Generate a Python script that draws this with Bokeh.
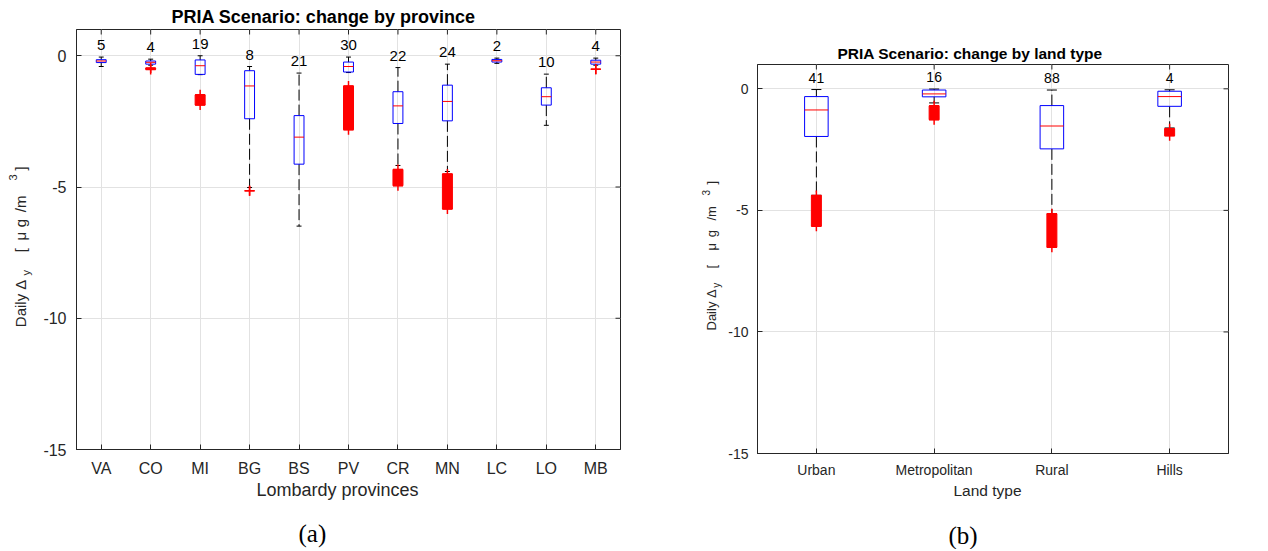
import numpy as np
from bokeh.plotting import figure
from bokeh.models import Range1d, FixedTicker, Title
from bokeh.layouts import row, column
from bokeh.embed import file_html
from bokeh.resources import INLINE
from bokeh.core.properties import value

# ---------------- data: (a) provinces ----------------
prov_names = ["VA", "CO", "MI", "BG", "BS", "PV", "CR", "MN", "LC", "LO", "MB"]
prov_counts = [5, 4, 19, 8, 21, 30, 22, 24, 2, 10, 4]
prov_upper = [-0.05, -0.13, 0.00, -0.41, -0.66, -0.05, -0.45, -0.32, -0.09, -0.70, -0.09]
prov_q3 = [-0.15, -0.20, -0.16, -0.57, -2.28, -0.24, -1.37, -1.12, -0.14, -1.22, -0.17]
prov_median = [-0.20, -0.25, -0.38, -1.15, -3.10, -0.41, -1.91, -1.74, -0.19, -1.56, -0.24]
prov_q1 = [-0.26, -0.32, -0.71, -2.40, -4.13, -0.62, -2.58, -2.48, -0.24, -1.88, -0.32]
prov_lower = [-0.41, -0.36, -0.72, -5.02, -6.49, -0.64, -4.18, -4.41, -0.29, -2.65, -0.36]
prov_out_top = [None, -0.47, -1.49, -5.14, None, -1.15, -4.33, -4.50, None, None, -0.51]
prov_out_bottom = [None, -0.52, -1.88, -5.14, None, -2.82, -4.95, -5.84, None, None, -0.51]

# ---------------- data: (b) land types ----------------
land_names = ["Urban", "Metropolitan", "Rural", "Hills"]
land_counts = [41, 16, 88, 4]
land_upper = [-0.03, -0.01, -0.05, -0.04]
land_q3 = [-0.32, -0.05, -0.69, -0.10]
land_median = [-0.87, -0.21, -1.53, -0.32]
land_q1 = [-1.96, -0.33, -2.47, -0.72]
land_lower = [-4.38, -0.58, -5.14, -1.61]
land_out_top = [-4.39, -0.70, -5.14, -1.64]
land_out_bottom = [-5.65, -1.27, -6.52, -1.93]

y_ticks = [-15, -10, -5, 0]
y_lim = (-15, 1)
captions = ["(a)", "(b)"]

SANS = "Liberation Sans"
SERIF = "Liberation Serif"
AX = "#262626"
GRID = "#e2e2e2"
H_ROW = 510   # height of the row of panels
H_CAP = 39    # strip for the (a)/(b) captions


def panel(names, counts, upper, q3, med, q1, lower, otop, obot, cfg):
    n = len(names)
    xs = np.arange(1, n + 1, dtype=float)
    xr = Range1d(0.5, n + 0.5)
    yr = Range1d(*y_lim)
    p = figure(frame_width=cfg["fw"], frame_height=cfg["fh"], x_range=xr, y_range=yr,
               output_backend="svg", toolbar_location=None, frame_align=False,
               min_border_left=cfg["ml"], min_border_right=cfg["mr"],
               min_border_top=cfg["mt"], min_border_bottom=H_ROW - cfg["mt"] - cfg["fh"],
               background_fill_color="white", border_fill_color="white")
    p.outline_line_color = AX
    p.outline_line_width = 1
    p.xaxis.ticker = FixedTicker(ticks=list(xs))
    p.xaxis.major_label_overrides = {float(x): nm for x, nm in zip(xs, names)}
    p.yaxis.ticker = FixedTicker(ticks=y_ticks)
    p.yaxis.major_label_overrides = {float(t): str(t) for t in y_ticks}
    for ax, sd in ((p.xaxis, cfg["xsd"]), (p.yaxis, cfg["ysd"])):
        ax.axis_line_color = AX
        ax.major_tick_line_color = AX
        ax.major_tick_in = 5
        ax.major_tick_out = 0
        ax.minor_tick_line_color = None
        ax.major_label_text_font = SANS
        ax.major_label_text_font_size = cfg["tick_fs"]
        ax.major_label_text_color = AX
        ax.major_label_standoff = sd
    p.xgrid.grid_line_color = GRID
    p.ygrid.grid_line_color = GRID
    # mirrored ticks on the top and right edges of the box
    p.ray(x=xs, y=[yr.end] * n, length=5, length_units="screen", angle=-np.pi / 2,
          line_color=AX, line_width=1)
    p.ray(x=[xr.end] * len(y_ticks), y=y_ticks, length=5, length_units="screen",
          angle=np.pi, line_color=AX, line_width=1)

    upper = np.array(upper); q3 = np.array(q3); med = np.array(med)
    q1 = np.array(q1); lower = np.array(lower)
    bw, cw = cfg["bw"], cfg["cw"]
    p.segment(x0=xs, y0=q3, x1=xs, y1=upper, line_color="black", line_width=1, line_dash="11 4")
    p.segment(x0=xs, y0=q1, x1=xs, y1=lower, line_color="black", line_width=1, line_dash="11 4")
    p.segment(x0=xs - cw / 2, y0=upper, x1=xs + cw / 2, y1=upper, line_color="black", line_width=1)
    p.segment(x0=xs - cw / 2, y0=lower, x1=xs + cw / 2, y1=lower, line_color="black", line_width=1)
    p.vbar(x=xs, width=bw, top=q3, bottom=q1, fill_color=None, line_color="#0000ff", line_width=1)
    p.segment(x0=xs - bw / 2, y0=med, x1=xs + bw / 2, y1=med, line_color="#ff0000", line_width=1)
    ox = [x for x, t in zip(xs, otop) if t is not None]
    ot = np.array([t for t in otop if t is not None])
    ob = np.array([b for b in obot if b is not None])
    p.rect(x=ox, y=(ot + ob) / 2, width=10, width_units="screen", height=ot - ob,
           fill_color="#ff0000", line_color="#ff0000", line_width=1)
    p.scatter(x=ox + ox, y=list(ot) + list(ob), marker="cross", size=10,
              line_color="#ff0000", line_width=1.5)
    p.text(x=xs, y=upper, text=[str(c) for c in counts], text_align="center",
           text_baseline="middle", y_offset=cfg["count_off"], text_font=value(SANS),
           text_font_size=cfg["count_fs"], text_color="black")

    p.title.text = cfg["title"]
    p.title.align = "left"
    p.title.offset = cfg["title_off"]
    p.title.standoff = cfg["title_sd"]
    p.title.text_font = SANS
    p.title.text_font_size = cfg["title_fs"]
    p.title.text_font_style = "bold"
    p.title.text_color = "black"
    p.add_layout(Title(text=cfg["xlabel"], align="left", offset=cfg["xl_off"],
                       standoff=cfg["xl_sd"], vertical_align="top",
                       text_font=SANS, text_font_size=cfg["xl_fs"],
                       text_font_style="normal", text_color=AX), "below")
    return p


def text_strip(width, height, xs, ys, texts, sizes, font, angle, color):
    f = figure(width=width, height=height, x_range=Range1d(0, width), y_range=Range1d(0, height),
               x_axis_type=None, y_axis_type=None, output_backend="svg",
               toolbar_location=None, min_border=0, frame_align=False,
               background_fill_color="white", border_fill_color="white")
    f.outline_line_color = None
    f.xgrid.visible = False
    f.ygrid.visible = False
    for x, y, t, s in zip(xs, ys, texts, sizes):
        f.text(x=[x], y=[height - y], text=[t], angle=angle, text_align="left",
               text_baseline="middle", text_font=value(font), text_font_size=s,
               text_color=color)
    return f


cfg_a = dict(fw=544, fh=420, ml=36, mr=75, mt=29, bw=0.2, cw=0.1,
             tick_fs="16px", count_fs="15px", count_off=-12, xsd=10, ysd=10,
             title="PRIA Scenario: change by province", title_off=95, title_sd=6, title_fs="18px",
             xlabel="Lombardy provinces", xl_off=180, xl_sd=0, xl_fs="18px")

cfg_b = dict(fw=471, fh=389, ml=32, mr=24, mt=64, bw=0.2, cw=0.085,
             tick_fs="14px", count_fs="14px", count_off=-12, xsd=8, ysd=9,
             title="PRIA Scenario: change by land type", title_off=80, title_sd=6, title_fs="15.5px",
             xlabel="Land type", xl_off=196, xl_sd=2, xl_fs="15.5px")

# y-axis label pieces: text, centre x in its strip, page y where the piece starts, size
ylab_txt = ["Daily  \u0394", "y", "[", "\u03bc", "g", "/m", "3", "]"]
ylab_a_x = [20, 25, 20, 20, 20, 20, 12.5, 20]
ylab_a_y = [326.7, 275, 251.7, 240, 226.7, 211.7, 180, 170]
ylab_a_fs = ["15px", "11px", "15px", "15px", "15px", "15px", "11px", "15px"]
ylab_b_x = [16, 21, 16, 16, 16, 16, 10, 16]
ylab_b_y = [330, 287.3, 268, 250, 236.7, 220, 195, 184]
ylab_b_fs = ["13px", "10px", "13px", "13px", "13px", "13px", "10px", "13px"]

pa = panel(prov_names, prov_counts, prov_upper, prov_q3, prov_median, prov_q1, prov_lower,
           prov_out_top, prov_out_bottom, cfg_a)
pb = panel(land_names, land_counts, land_upper, land_q3, land_median, land_q1, land_lower,
           land_out_top, land_out_bottom, cfg_b)
ya = text_strip(40, H_ROW, ylab_a_x, ylab_a_y, ylab_txt, ylab_a_fs, SANS, np.pi / 2, AX)
yb = text_strip(30, H_ROW, ylab_b_x, ylab_b_y, ylab_txt, ylab_b_fs, SANS, np.pi / 2, AX)
total_w = 40 + 36 + 544 + 75 + 30 + 32 + 471 + 24
cap = text_strip(total_w, H_CAP, [298, 948], [533 - H_ROW, 535 - H_ROW], captions,
                 ["25px", "25px"], SERIF, 0.0, "black")

layout = column(row(ya, pa, yb, pb), cap)
open("out.html", "w").write(file_html(layout, INLINE))
